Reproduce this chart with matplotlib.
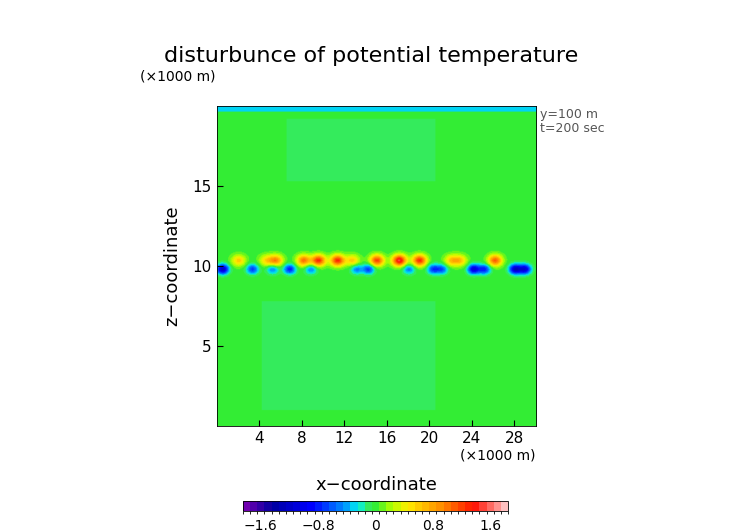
import numpy as np
import matplotlib
matplotlib.use("Agg")
from matplotlib import pyplot as plt
from matplotlib.colors import LinearSegmentedColormap, BoundaryNorm

# warm anomalies just above z=10 km (x in km*1000, amplitude in K)
warm_x = [2.0, 4.6, 5.5, 8.1, 9.5, 11.3, 12.7, 15.0, 17.1, 19.0, 22.0, 22.8, 26.1]
warm_a = [0.6, 0.5, 0.9, 1.0, 1.3, 1.3, 0.6, 1.2, 1.5, 1.3, 0.6, 0.6, 1.1]
# cold anomalies just below z=10 km
cold_x = [0.5, 3.3, 5.2, 6.8, 8.8, 13.1, 14.2, 18.0, 20.3, 21.1, 24.1, 25.1, 28.0, 28.9]
cold_a = [-1.2, -0.7, -0.5, -0.8, -0.5, -0.5, -0.7, -0.5, -0.7, -0.6, -1.1, -0.8, -1.2, -1.1]
cbar_ticks = [-1.6, -0.8, 0, 0.8, 1.6]

x = np.linspace(0, 30, 400)
z = np.linspace(0, 20, 400)
X, Z = np.meshgrid(x, z)
T = np.zeros_like(X)
for xc, a in zip(warm_x, warm_a):
    T += a * np.exp(-((X - xc) / 0.65) ** 2 - ((Z - 10.35) / 0.35) ** 2)
for xc, a in zip(cold_x, cold_a):
    T += a * np.exp(-((X - xc) / 0.55) ** 2 - ((Z - 9.8) / 0.3) ** 2)
# faint slightly cooler regions above and below the layer
T[(X > 6.5) & (X < 20.5) & (Z > 15.3) & (Z < 19.2)] -= 0.07
T[(X > 4.2) & (X < 20.5) & (Z > 1.0) & (Z < 7.8)] -= 0.07
T[Z > 19.65] = -0.3

anchors = [(0.0, "#7000b0"), (0.1, "#0000a0"), (0.25, "#0000ff"), (0.38, "#0090ff"),
           (0.43, "#00f0f0"), (0.475, "#3aeb4c"), (0.5, "#33ee33"), (0.56, "#b0ff00"),
           (0.62, "#ffee00"), (0.75, "#ff9000"), (0.88, "#ff1000"), (1.0, "#ffc0c0")]
cmap = LinearSegmentedColormap.from_list("g", anchors)
levels = np.arange(-1.85, 1.86, 0.1)
norm = BoundaryNorm(levels, cmap.N)

fig = plt.figure(figsize=(7.52, 5.32), dpi=100)
ax = fig.add_axes([216.5 / 752, 106 / 532, 319 / 752, 320 / 532])
im = ax.imshow(T, origin="lower", extent=[0, 30, 0, 20], aspect="auto",
               cmap=cmap, norm=norm, interpolation="bilinear")
ax.set_xlim(0, 30)
ax.set_ylim(0, 20)
ax.set_xticks(range(4, 29, 4))
ax.set_yticks([5, 10, 15])
ax.tick_params(direction="in", length=4, labelsize=11, colors="black")
for s in ax.spines.values():
    s.set_linewidth(0.6)
ax.set_xlabel("x\u2212coordinate", fontsize=13, labelpad=22)
ax.set_ylabel("z\u2212coordinate", fontsize=13, labelpad=8)
ax.text(1.0, -0.07, "(\u00d71000 m)", transform=ax.transAxes, ha="right", va="top", fontsize=10)
ax.text(-0.24, 1.07, "(\u00d71000 m)", transform=ax.transAxes, ha="left", va="bottom", fontsize=10)
ax.text(1.015, 0.995, "y=100 m\nt=200 sec", transform=ax.transAxes, ha="left", va="top",
        fontsize=9, color="#555555", linespacing=1.1)
fig.text(0.493, 0.883, "disturbunce of potential temperature", ha="center", fontsize=16)

cax = fig.add_axes([243 / 752, 21 / 532, 265 / 752, 10 / 532])
cb = fig.colorbar(im, cax=cax, orientation="horizontal", ticks=cbar_ticks)
cb.ax.set_xticklabels(["\u22121.6", "\u22120.8", "0", "0.8", "1.6"])
cb.ax.tick_params(length=0, labelsize=10, pad=6)
cb.outline.set_linewidth(0.6)

fig.savefig("out.png", dpi=100)
